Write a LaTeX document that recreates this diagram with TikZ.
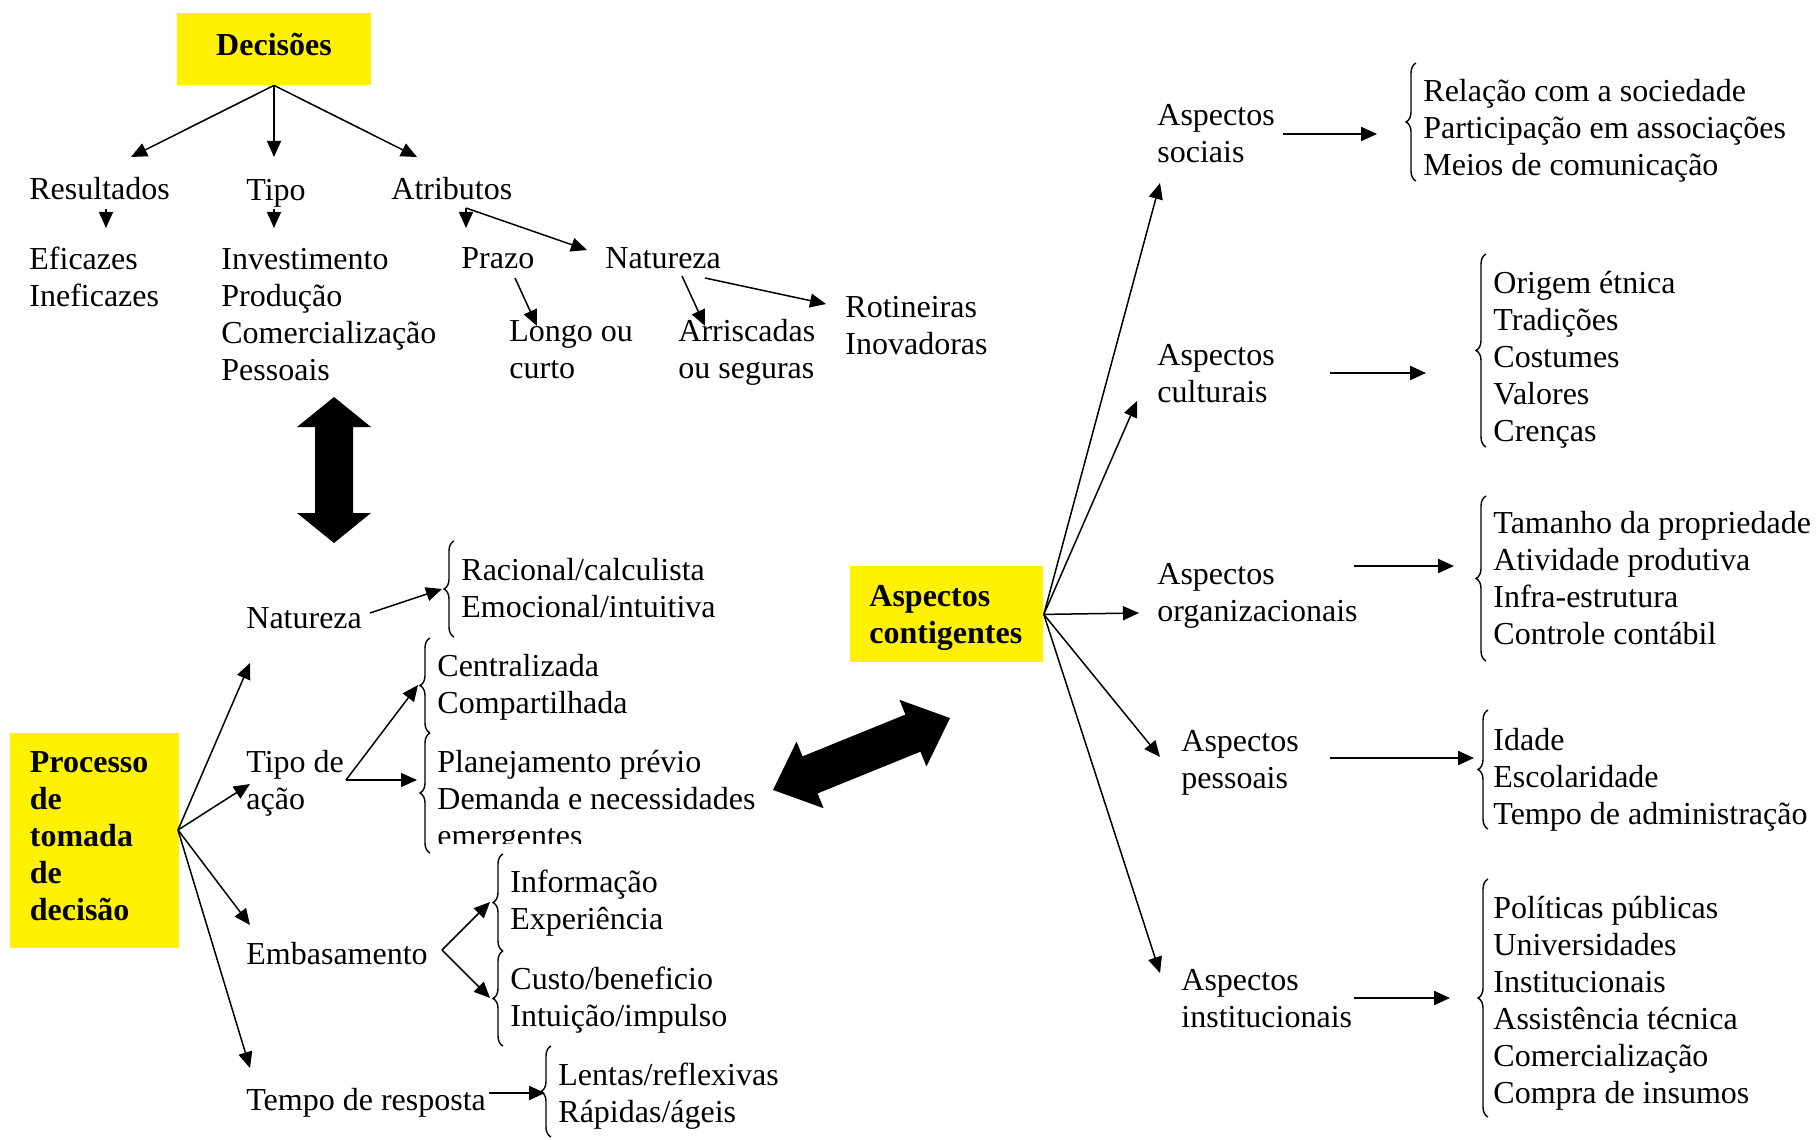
\documentclass[tikz,border=0pt]{standalone}
\usepackage{fontspec}
\setmainfont{Liberation Serif}
\usetikzlibrary{arrows.meta, decorations.pathreplacing}

\begin{document}
\begin{tikzpicture}[x=0.5pt, y=-0.5pt,
    font=\fontsize{16}{18.5}\selectfont,
    lbl/.style={anchor=west, align=left, inner sep=0pt},
    ybox/.style={fill=yellow, font=\fontsize{16}{18.5}\selectfont\bfseries, inner sep=0pt},
    arr/.style={-{Triangle[length=8pt, width=7pt]}, line width=0.75pt},
    harr/.style={arr, line width=1.1pt},
    brc/.style={decorate, decoration={brace, amplitude=5pt}, line width=0.7pt}]
    \useasboundingbox (0,0) rectangle (1818,1139);

    % Decisoes tree
    \node[ybox, minimum width=97pt, minimum height=36pt, text depth=5pt] (dec) at (274,49) {Decisões};
    \node[lbl] (res) at (29,189) {Resultados};
    \node[lbl] (tip) at (246,193) {Tipo};
    \node[lbl] (atr) at (391,189) {Atributos};
    \node[lbl] (efi) at (29,277) {Eficazes\\Ineficazes};
    \node[lbl] (inv) at (221,315) {Investimento\\Produção\\Comercialização\\Pessoais};
    \node[lbl] (prz) at (461,258) {Prazo};
    \node[lbl] (nat) at (605,258) {Natureza};
    \node[lbl] (lon) at (509,350) {Longo ou\\curto};
    \node[lbl] (ris) at (678,352) {Arriscadas\\ou seguras};
    \node[lbl] (rot) at (845,326) {Rotineiras\\Inovadoras};

    \coordinate (d1) at (131,157);
    \coordinate (d2) at (274,157);
    \coordinate (d3) at (417,157);
    \coordinate (r0) at (106,209); \coordinate (r1) at (106,228);
    \coordinate (t0) at (274,209); \coordinate (t1) at (274,228);
    \coordinate (a0) at (466,208); \coordinate (a1) at (466,228); \coordinate (a2) at (587,250);
    \coordinate (p0) at (515,278); \coordinate (p1) at (537,326);
    \coordinate (n0) at (682,276); \coordinate (n1) at (705,326);
    \coordinate (n2) at (705,278); \coordinate (n3) at (826,304);

    \path[arr]
    (dec.south) edge (d1)
                edge (d2)
                edge (d3)
    (r0) edge (r1)
    (t0) edge (t1)
    (a0) edge (a1)
         edge (a2)
    (p0) edge (p1)
    (n0) edge (n1)
    (n2) edge (n3);

    % big arrows
    \fill (334,397) -- (371,427) -- (353,427) -- (353,513) -- (371,513) -- (334,543)
        -- (297,513) -- (315,513) -- (315,427) -- (297,427) -- cycle;
    \begin{scope}[shift={(861.5,754)}, rotate=22.1]
        \fill (-95.5,0) -- (-55.5,-36) -- (-55.5,-20) -- (55.5,-20) -- (55.5,-36) -- (95.5,0)
            -- (55.5,36) -- (55.5,20) -- (-55.5,20) -- (-55.5,36) -- cycle;
    \end{scope}

    % Processo de tomada de decisao
    \node[ybox, anchor=north west, minimum width=84.5pt, minimum height=107.5pt,
          text width=65pt, inner xsep=9.5pt, align=left, text depth=79pt] (proc) at (10,733)
          {Processo\\de\\tomada\\de\\decisão};
    \node[lbl] (natb) at (246,618) {Natureza};
    \node[lbl] (rac) at (461,588) {Racional/calculista\\Emocional/intuitiva};
    \node[lbl] (tpa) at (246,783) {Tipo de\\ação};
    \node[lbl] (cen) at (437,687) {Centralizada\\Compartilhada};
    \begin{scope}
        \clip (420,700) rectangle (800,843);
        \node[lbl] (pla) at (437,802) {Planejamento prévio\\Demanda e necessidades\\emergentes};
    \end{scope}
    \node[lbl] (emb) at (246,954) {Embasamento};
    \node[lbl] (inf) at (510,903) {Informação\\Experiência};
    \node[lbl] (cus) at (510,1000) {Custo/beneficio\\Intuição/impulso};
    \node[lbl] (tmp) at (246,1103) {Tempo de resposta};
    \node[lbl] (len) at (558,1096) {Lentas/reflexivas\\Rápidas/ágeis};

    \draw[brc] (454,637) -- (454,541);
    \draw[brc] (430,733) -- (430,638);
    \draw[brc] (430,853) -- (430,733);
    \draw[brc] (503,951) -- (503,854);
    \draw[brc] (503,1046) -- (503,951);
    \draw[brc] (551,1137) -- (551,1046);

    \coordinate (pc) at (178,830);
    \coordinate (q1) at (250,663);
    \coordinate (q2) at (250,784);
    \coordinate (q3) at (250,925);
    \coordinate (q4) at (250,1068);
    \coordinate (b0) at (370,613); \coordinate (b1) at (442,589);
    \coordinate (c0) at (346,780); \coordinate (c1) at (418,685); \coordinate (c2) at (417,780);
    \coordinate (e0) at (442,950); \coordinate (e1) at (490,902); \coordinate (e2) at (490,998);
    \coordinate (m0) at (489,1093); \coordinate (m1) at (545,1093);

    \path[arr]
    (pc) edge (q1)
         edge (q2)
         edge (q3)
         edge (q4)
    (b0) edge (b1)
    (c0) edge (c1)
         edge (c2)
    (e0) edge (e1)
         edge (e2);
    \draw[harr] (m0) -- (m1);

    % Aspectos contigentes
    \node[ybox, anchor=north west, minimum width=96.5pt, minimum height=48pt,
          text width=77.5pt, inner xsep=9.5pt, align=left, text depth=18.5pt] (asp) at (850,566)
          {Aspectos\\contigentes};
    \node[lbl] (soc) at (1157,134) {Aspectos\\sociais};
    \node[lbl] (socl) at (1423,131) {Relação com a sociedade\\Participação em associações\\Meios de comunicação};
    \node[lbl] (cul) at (1157,374) {Aspectos\\culturais};
    \node[lbl] (cull) at (1493,360) {Origem étnica\\Tradições\\Costumes\\Valores\\Crenças};
    \node[lbl] (org) at (1157,596) {Aspectos\\organizacionais};
    \node[lbl] (orgl) at (1493,578) {Tamanho da propriedade\\Atividade produtiva\\Infra-estrutura\\Controle contábil};
    \node[lbl] (pes) at (1181,763) {Aspectos\\pessoais};
    \node[lbl] (pesl) at (1493,780) {Idade\\Escolaridade\\Tempo de administração};
    \node[lbl] (ins) at (1181,999) {Aspectos\\institucionais};
    \node[lbl] (insl) at (1493,1003) {Políticas públicas\\Universidades\\Institucionais\\Assistência técnica\\Comercialização\\Compra de insumos};

    \draw[brc] (1416,181) -- (1416,63);
    \draw[brc] (1486,447) -- (1486,254);
    \draw[brc] (1486,661) -- (1486,496);
    \draw[brc] (1488,829) -- (1488,710);
    \draw[brc] (1488,1117) -- (1488,879);

    \coordinate (g1) at (1160,183);
    \coordinate (g2) at (1137,401);
    \coordinate (g3) at (1139,613);
    \coordinate (g4) at (1160,757);
    \coordinate (g5) at (1160,973);
    \coordinate (h1) at (1283,134); \coordinate (k1) at (1377,134);
    \coordinate (h2) at (1330,373); \coordinate (k2) at (1426,373);
    \coordinate (h3) at (1354,566); \coordinate (k3) at (1454,566);
    \coordinate (h4) at (1330,758); \coordinate (k4) at (1474,758);
    \coordinate (h5) at (1354,998); \coordinate (k5) at (1450,998);

    \path[arr]
    (asp.east) edge (g1)
               edge (g2)
               edge (g3)
               edge (g4)
               edge (g5);
    \path[harr]
    (h1) edge (k1)
    (h2) edge (k2)
    (h3) edge (k3)
    (h4) edge (k4)
    (h5) edge (k5);
\end{tikzpicture}
\end{document}
